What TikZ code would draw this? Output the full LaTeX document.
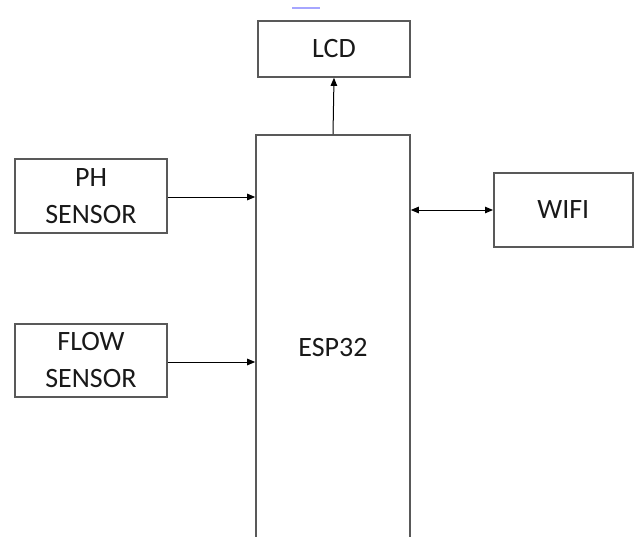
\documentclass[tikz,border=0pt]{standalone}
\usepackage{fontspec}
\setmainfont{Carlito}
\usetikzlibrary{arrows.meta}
\begin{document}
\begin{tikzpicture}[x=1pt,y=-1pt,
  blk/.style={draw=black!65,line width=1.6pt,fill=white,inner sep=0pt,align=center,
    font=\fontsize{28}{37}\selectfont,text=black!90},
  conn/.style={line width=1pt,-{Triangle[length=8pt,width=6.5pt]}}]
\clip (0,0) rectangle (635,536);
\fill[white] (0,0) rectangle (635,536);
\node[blk,minimum width=152,minimum height=56] (lcd) at (334,49) {LCD};
\node[blk,minimum width=154,minimum height=425] (esp) at (333,347.5) {ESP32};
\node[blk,minimum width=152,minimum height=74] (ph) at (91,196) {PH\\SENSOR};
\node[blk,minimum width=152,minimum height=73] (flow) at (91,360.5) {FLOW\\SENSOR};
\node[blk,minimum width=139,minimum height=74,anchor=west] (wifi) at (493,210) {WIFI};
\coordinate (blueA) at (292,8);
\coordinate (blueB) at (320,8);
\draw[line width=1.5pt,blue!35] (blueA) -- (blueB);
\draw[conn] (esp.north) -- (lcd.south);
\draw[conn] (ph.east |- 0,197) -- (esp.west |- 0,197);
\draw[conn] (flow.east |- 0,362) -- (esp.west |- 0,362);
\draw[line width=1pt,{Triangle[length=8pt,width=6.5pt]}-{Triangle[length=8pt,width=6.5pt]}] (esp.east |- 0,210) -- (wifi.west);
\end{tikzpicture}
\end{document}
